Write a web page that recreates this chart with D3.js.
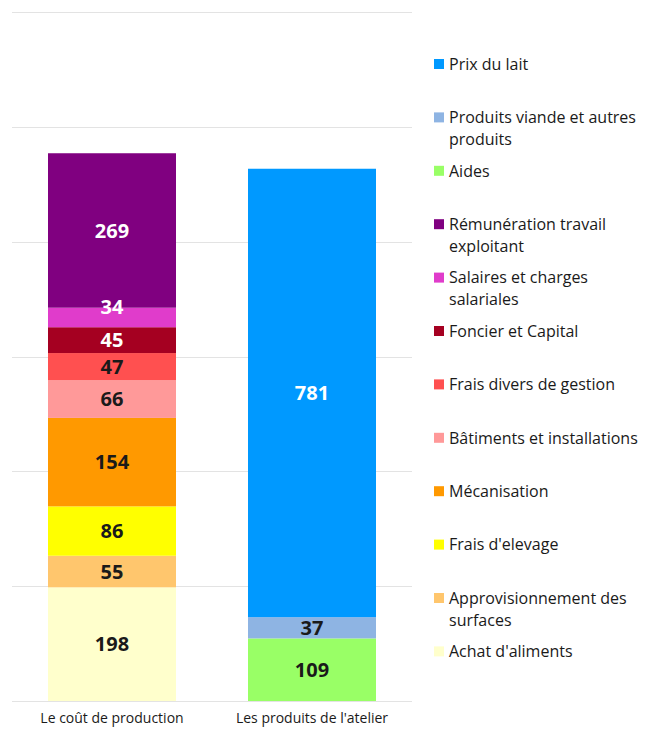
<!DOCTYPE html>
<html>
<head>
<meta charset="utf-8">
<script src="https://cdn.jsdelivr.net/npm/d3@7"></script>
<style>
  html, body { margin: 0; padding: 0; background: #fff; }
  svg { display: block; }
</style>
</head>
<body>
<svg id="chart" width="645" height="729"></svg>
<script>
// ---- DATA ----
const categories = ["Le coût de production", "Les produits de l'atelier"];

// Cost components (left bar), bottom to top
const costSeries = ["Achat d'aliments", "Approvisionnement des surfaces", "Frais d'elevage", "Mécanisation",
  "Bâtiments et installations", "Frais divers de gestion", "Foncier et Capital",
  "Salaires et charges salariales", "Rémunération travail exploitant"];
const costValues = [198, 55, 86, 154, 66, 47, 45, 34, 269];

// Product components (right bar), bottom to top
const productSeries = ["Aides", "Produits viande et autres produits", "Prix du lait"];
const productValues = [109, 37, 781];

// Legend order (top to bottom)
const legendSeries = ["Prix du lait", "Produits viande et autres produits", "Aides",
  "Rémunération travail exploitant", "Salaires et charges salariales", "Foncier et Capital",
  "Frais divers de gestion", "Bâtiments et installations", "Mécanisation", "Frais d'elevage",
  "Approvisionnement des surfaces", "Achat d'aliments"];
const legendLines = [["Prix du lait"], ["Produits viande et autres", "produits"], ["Aides"],
  ["Rémunération travail", "exploitant"], ["Salaires et charges", "salariales"], ["Foncier et Capital"],
  ["Frais divers de gestion"], ["Bâtiments et installations"], ["Mécanisation"], ["Frais d'elevage"],
  ["Approvisionnement des", "surfaces"], ["Achat d'aliments"]];

const yTicks = [0, 200, 400, 600, 800, 1000, 1200];

// ---- STYLES ----
const colors = {
  "Prix du lait": "#0099FF",
  "Produits viande et autres produits": "#8EB4E3",
  "Aides": "#99FF66",
  "Rémunération travail exploitant": "#800080",
  "Salaires et charges salariales": "#E03CCB",
  "Foncier et Capital": "#A50021",
  "Frais divers de gestion": "#FF5050",
  "Bâtiments et installations": "#FF9999",
  "Mécanisation": "#FF9900",
  "Frais d'elevage": "#FFFF00",
  "Approvisionnement des surfaces": "#FFC66D",
  "Achat d'aliments": "#FFFFCC"
};
const whiteLabels = new Set(["Rémunération travail exploitant", "Salaires et charges salariales",
  "Foncier et Capital", "Prix du lait"]);
const labelNudge = { "Salaires et charges salariales": -11 };

const svg = d3.select("#chart");
const font = "'Open Sans', 'DejaVu Sans', sans-serif";

const x = d3.scaleBand().domain(categories).range([12, 412]).paddingInner(0.36).paddingOuter(0.18);
const y = d3.scaleLinear().domain([0, 1200]).range([701, 12]);

// gridlines
svg.append("g").selectAll("line").data(yTicks).join("line")
  .attr("x1", 12).attr("x2", 412)
  .attr("y1", d => Math.round(y(d)) + 0.5).attr("y2", d => Math.round(y(d)) + 0.5)
  .attr("stroke", "#e3e3e3").attr("stroke-width", 1);

// build stacked segments
function stackOf(cat, names, vals) {
  let acc = 0;
  return names.map((n, i) => {
    const s = { cat, name: n, value: vals[i], y0: acc, y1: acc + vals[i] };
    acc += vals[i];
    return s;
  });
}
const segments = stackOf(categories[0], costSeries, costValues)
  .concat(stackOf(categories[1], productSeries, productValues));

svg.append("g").selectAll("rect").data(segments).join("rect")
  .attr("x", d => x(d.cat))
  .attr("width", x.bandwidth())
  .attr("y", d => y(d.y1))
  .attr("height", d => y(d.y0) - y(d.y1))
  .attr("fill", d => colors[d.name]);

svg.append("g").selectAll("text").data(segments).join("text")
  .attr("x", d => x(d.cat) + x.bandwidth() / 2)
  .attr("y", d => (y(d.y0) + y(d.y1)) / 2 + (labelNudge[d.name] || 0))
  .attr("dy", "0.36em")
  .attr("text-anchor", "middle")
  .attr("font-family", font)
  .attr("font-weight", "bold")
  .attr("font-size", 20)
  .attr("fill", d => whiteLabels.has(d.name) ? "#ffffff" : "#1a1a1a")
  .text(d => d.value);

// category axis labels
svg.append("g").selectAll("text").data(categories).join("text")
  .attr("x", d => x(d) + x.bandwidth() / 2)
  .attr("y", 723)
  .attr("text-anchor", "middle")
  .attr("font-family", font)
  .attr("font-size", 14)
  .attr("fill", "#1a1a1a")
  .text(d => d);

// legend
const legendTop = 64, legendStep = 53.4;
const lg = svg.append("g");
legendSeries.forEach((name, i) => {
  const cy = legendTop + i * legendStep;
  lg.append("rect")
    .attr("x", 434).attr("y", cy - 5).attr("width", 10).attr("height", 10)
    .attr("fill", colors[name]);
  legendLines[i].forEach((line, j) => {
    lg.append("text")
      .attr("x", 449).attr("y", cy + j * 22)
      .attr("dy", "0.36em")
      .attr("font-family", font)
      .attr("font-size", 16)
      .attr("fill", "#1a1a1a")
      .text(line);
  });
});
</script>
</body>
</html>
